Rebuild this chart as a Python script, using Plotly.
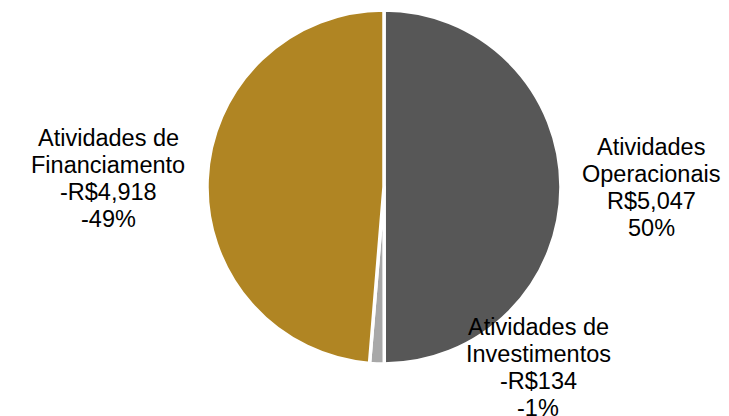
import plotly.graph_objects as go

# Cash flow breakdown by activity (R$ millions)
categories = ["Atividades<br>Operacionais", "Atividades de<br>Investimentos", "Atividades de<br>Financiamento"]
amounts = [5047, -134, -4918]
percents = [50, -1, -49]
colors = ["#575757", "#A8A8A8", "#B08523"]

# Label block centres (pixels in a 729x416 canvas) and per-line spacing
W, H = 729, 416
label_pos = [(651, 187), (538, 367), (108, 178)]
line_gap = 27

fig = go.Figure(
    go.Pie(
        labels=[c.replace("<br>", " ") for c in categories],
        values=[abs(v) for v in amounts],
        sort=False,
        direction="clockwise",
        rotation=0,
        marker=dict(colors=colors, line=dict(color="white", width=3.5)),
        textinfo="none",
        hoverinfo="label+value",
        domain=dict(x=[207 / W, 561 / W], y=[(H - 364) / H, (H - 10) / H]),
        showlegend=False,
    )
)

annotations = []
for cat, amt, pct, (cx, cy) in zip(categories, amounts, percents, label_pos):
    sign = "-" if amt < 0 else ""
    lines = cat.split("<br>") + [f"{sign}R${abs(amt):,}", f"{pct}%"]
    n = len(lines)
    for i, line in enumerate(lines):
        py = cy + (i - (n - 1) / 2) * line_gap
        annotations.append(
            dict(
                text=line,
                x=cx / W,
                y=1 - py / H,
                xref="paper",
                yref="paper",
                xanchor="center",
                yanchor="middle",
                showarrow=False,
                font=dict(family="Liberation Sans, Arial, sans-serif", size=23.5, color="#000000"),
            )
        )

fig.update_layout(
    width=W,
    height=H,
    margin=dict(l=0, r=0, t=0, b=0),
    paper_bgcolor="white",
    plot_bgcolor="white",
    annotations=annotations,
)

fig.write_html("out.html")
